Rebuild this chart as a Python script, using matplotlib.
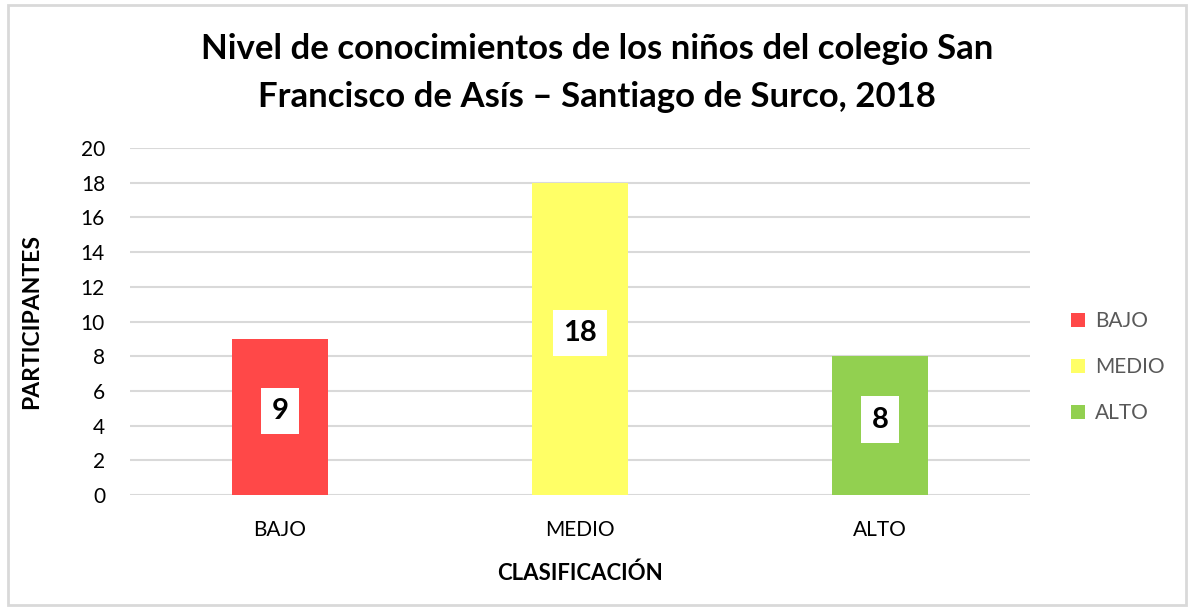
import matplotlib.pyplot as plt
from matplotlib.patches import Rectangle

plt.rcParams['font.family'] = ['Lato', 'DejaVu Sans']

# data
categories = ['BAJO', 'MEDIO', 'ALTO']
values = [9, 18, 8]
colors = ['#FF4848', '#FFFF66', '#92D050']
y_ticks = list(range(0, 21, 2))

fig = plt.figure(figsize=(11.94, 6.09), dpi=100)
# outer frame like the Excel chart area
fig.patches.append(Rectangle((8/1194, 4/609), 1178/1194, 600/609,
                             transform=fig.transFigure, fill=False,
                             edgecolor='#d9d9d9', linewidth=2))

ax = fig.add_axes([130/1194, 1 - 495/609, 900/1194, 347/609])
x = range(len(categories))
bars = ax.bar(x, values, width=0.317, color=colors, label=categories, zorder=3)

for xi, v in zip(x, values):
    ax.text(xi, v/2 + 0.35, str(v), ha='center', va='center', fontsize=21,
            fontweight='bold', color='black', zorder=4,
            bbox=dict(boxstyle='square,pad=0.35', facecolor='white', edgecolor='none'))

ax.set_xlim(-0.5, 2.5)
ax.set_ylim(0, 20)
ax.set_yticks(y_ticks)
ax.set_xticks(list(x))
ax.set_xticklabels(categories)
ax.tick_params(axis='both', length=0, labelsize=15, colors='black')
ax.tick_params(axis='y', pad=18)
ax.tick_params(axis='x', pad=18)
ax.grid(axis='y', color='#d9d9d9', linewidth=1.5, zorder=0)
for s in ax.spines.values():
    s.set_visible(False)

ax.set_ylabel('PARTICIPANTES', fontsize=16.5, fontweight='bold', labelpad=28)
ax.set_xlabel('CLASIFICACIÓN', fontsize=16, fontweight='bold', labelpad=16)

fig.text(0.5, 1 - 73/609, 'Nivel de conocimientos de los niños del colegio San\n'
         'Francisco de Asís – Santiago de Surco, 2018',
         ha='center', va='center', fontsize=25, fontweight='bold',
         linespacing=1.6)

leg = ax.legend(loc='center left', bbox_to_anchor=(1.025, 0.369), frameon=False,
                fontsize=15, handlelength=0.65, handleheight=0.65,
                labelspacing=1.25, handletextpad=0.5)
for t in leg.get_texts():
    t.set_color('#595959')

fig.savefig('out.png', dpi=100)
